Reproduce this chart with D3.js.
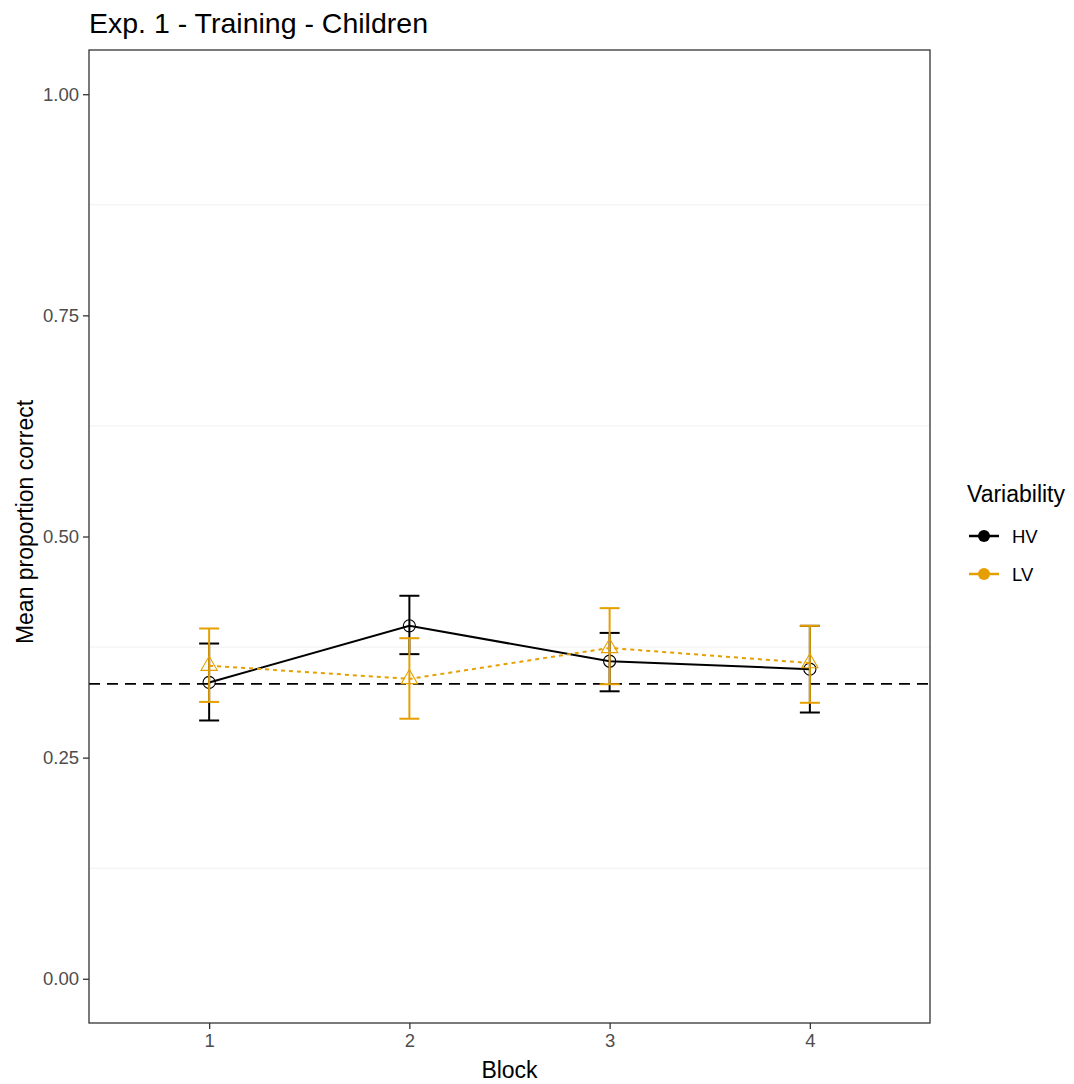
<!DOCTYPE html>
<html>
<head>
<meta charset="utf-8">
<script src="https://cdn.jsdelivr.net/npm/d3@7"></script>
<style>
  body { margin: 0; background: #fff; }
  text { font-family: "Liberation Sans", Arial, sans-serif; }
</style>
</head>
<body>
<svg id="chart"></svg>
<script>
// data
const blocks = [1, 2, 3, 4];
const hvMean = [0.335, 0.399, 0.359, 0.350];
const hvLow  = [0.292, 0.367, 0.325, 0.301];
const hvHigh = [0.379, 0.433, 0.391, 0.399];
const lvMean = [0.354, 0.339, 0.374, 0.357];
const lvLow  = [0.313, 0.294, 0.333, 0.312];
const lvHigh = [0.396, 0.385, 0.419, 0.399];
const chanceLevel = 1 / 3;
const yTicks = [0, 0.25, 0.5, 0.75, 1];
const yMinor = [0.125, 0.375, 0.625, 0.875];

const series = [
  { name: 'HV', color: '#000000', dash: null, shape: 'circle', mean: hvMean, low: hvLow, high: hvHigh },
  { name: 'LV', color: '#E69F00', dash: '4,4', shape: 'triangle', mean: lvMean, low: lvLow, high: lvHigh }
];

const W = 1074, H = 1084;
const panel = { left: 89, right: 930, top: 50, bottom: 1023 };

const svg = d3.select('#chart').attr('width', W).attr('height', H);

const x = d3.scaleLinear().domain([0.4, 4.6]).range([panel.left, panel.right]);
const y = d3.scaleLinear().domain([-0.05, 1.05]).range([panel.bottom, panel.top]);

// minor grid (only faint ones visible)
svg.append('g')
  .selectAll('line')
  .data(yMinor)
  .join('line')
    .attr('x1', panel.left).attr('x2', panel.right)
    .attr('y1', d => y(d)).attr('y2', d => y(d))
    .attr('stroke', '#f0f0f0')
    .attr('stroke-width', 1);

// chance line
svg.append('line')
  .attr('x1', panel.left).attr('x2', panel.right)
  .attr('y1', y(chanceLevel)).attr('y2', y(chanceLevel))
  .attr('stroke', '#000')
  .attr('stroke-width', 1.6)
  .attr('stroke-dasharray', '11,7');

const line = d3.line().x((d, i) => x(blocks[i])).y(d => y(d));
const capW = 10;

series.forEach(s => {
  const g = svg.append('g');

  // error bars
  const eb = g.selectAll('g.eb')
    .data(blocks)
    .join('g')
    .attr('class', 'eb');
  eb.append('line')
    .attr('x1', d => x(d)).attr('x2', d => x(d))
    .attr('y1', (d, i) => y(s.low[i])).attr('y2', (d, i) => y(s.high[i]));
  eb.append('line')
    .attr('x1', d => x(d) - capW).attr('x2', d => x(d) + capW)
    .attr('y1', (d, i) => y(s.low[i])).attr('y2', (d, i) => y(s.low[i]));
  eb.append('line')
    .attr('x1', d => x(d) - capW).attr('x2', d => x(d) + capW)
    .attr('y1', (d, i) => y(s.high[i])).attr('y2', (d, i) => y(s.high[i]));
  eb.selectAll('line')
    .attr('stroke', s.color)
    .attr('stroke-width', 2);

  // connecting line
  g.append('path')
    .attr('d', line(s.mean))
    .attr('fill', 'none')
    .attr('stroke', s.color)
    .attr('stroke-width', 2)
    .attr('stroke-dasharray', s.dash);

  // points
  const sym = s.shape === 'circle' ? d3.symbolCircle : d3.symbolTriangle;
  g.selectAll('path.pt')
    .data(blocks)
    .join('path')
    .attr('class', 'pt')
    .attr('d', d3.symbol().type(sym).size(115))
    .attr('transform', (d, i) => `translate(${x(d)},${y(s.mean[i])})`)
    .attr('fill', 'none')
    .attr('stroke', s.color)
    .attr('stroke-width', 1.1);
});

// panel border
svg.append('rect')
  .attr('x', panel.left).attr('y', panel.top)
  .attr('width', panel.right - panel.left)
  .attr('height', panel.bottom - panel.top)
  .attr('fill', 'none')
  .attr('stroke', '#333')
  .attr('stroke-width', 1.3);

// axes
const yAxis = svg.append('g')
  .attr('transform', `translate(${panel.left},0)`)
  .call(d3.axisLeft(y).tickValues(yTicks).tickFormat(d3.format('.2f')).tickSize(6).tickPadding(4));
const xAxis = svg.append('g')
  .attr('transform', `translate(0,${panel.bottom})`)
  .call(d3.axisBottom(x).tickValues(blocks).tickFormat(d3.format('d')).tickSize(6).tickPadding(5));
[yAxis, xAxis].forEach(a => {
  a.select('.domain').remove();
  a.selectAll('line').attr('stroke', '#333').attr('stroke-width', 1.3);
  a.selectAll('text').attr('fill', '#4d4d4d').style('font-size', '18.5px');
});

// titles
svg.append('text')
  .attr('x', panel.left).attr('y', 33)
  .style('font-size', '28.5px')
  .attr('fill', '#000')
  .text('Exp. 1 - Training - Children');

svg.append('text')
  .attr('x', (panel.left + panel.right) / 2).attr('y', 1078)
  .attr('text-anchor', 'middle')
  .style('font-size', '23px')
  .text('Block');

svg.append('text')
  .attr('transform', 'translate(33,522) rotate(-90)')
  .attr('text-anchor', 'middle')
  .style('font-size', '23px')
  .text('Mean proportion correct');

// legend
const legend = svg.append('g').attr('transform', 'translate(967,0)');
legend.append('text')
  .attr('x', 0).attr('y', 502)
  .style('font-size', '23px')
  .text('Variability');
series.forEach((s, i) => {
  const ly = 536 + i * 38;
  legend.append('line')
    .attr('x1', 2).attr('x2', 32)
    .attr('y1', ly).attr('y2', ly)
    .attr('stroke', s.color)
    .attr('stroke-width', 2.5);
  legend.append('circle')
    .attr('cx', 17).attr('cy', ly).attr('r', 6)
    .attr('fill', s.color);
  legend.append('text')
    .attr('x', 45).attr('y', ly + 7)
    .style('font-size', '18.5px')
    .attr('fill', '#000')
    .text(s.name);
});
</script>
</body>
</html>
